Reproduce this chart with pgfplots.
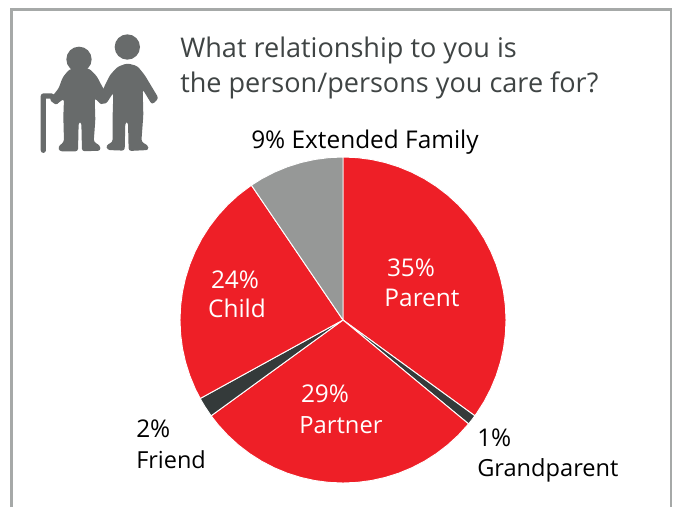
\documentclass[border=0pt]{standalone}
\usepackage{fontspec}
\setmainfont{Open Sans}
\usepackage{pgfplots}
\pgfplotsset{compat=1.18}
\definecolor{ingred}{HTML}{EE1F27}
\definecolor{slicedark}{HTML}{343A3A}
\definecolor{slicegrey}{HTML}{969897}
\definecolor{icongrey}{HTML}{686B6B}
\definecolor{framegrey}{HTML}{A6A9A8}
\definecolor{titlegrey}{HTML}{3F4444}
\begin{document}
\begin{tikzpicture}[x=0.75pt,y=-0.75pt]
\path[use as bounding box] (0,0) rectangle (678,507);
% frame, open at the bottom
\draw[framegrey,line width=2.2pt] (11.5,507) -- (11.5,9.5) -- (671,9.5) -- (671,507);
% icon, traced in zoom coordinates (3x, offset 20,20)
\begin{scope}[shift={(20,20)},x=0.25pt,y=-0.25pt,icongrey]
\fill (177,118) circle[radius=38];
\fill (322,81) circle[radius=38];
\fill[rounded corners=2pt] (177,142) -- (208,146) -- (230,168) -- (250,206) -- (264,222) -- (246,256) -- (224,234) -- (226,300) -- (221,366) -- (240,376) -- (242,392) -- (186,394) -- (184,306) -- (176,306) -- (174,394) -- (118,394) -- (114,380) -- (132,366) -- (130,290) -- (132,236) -- (108,254) -- (88,240) -- (116,205) -- (128,172) -- (148,148) -- cycle;
\fill[rounded corners=2pt] (322,130) -- (352,138) -- (374,165) -- (416,235) -- (396,254) -- (368,208) -- (370,285) -- (364,366) -- (384,376) -- (386,390) -- (326,393) -- (324,306) -- (316,306) -- (314,392) -- (262,390) -- (258,376) -- (278,366) -- (278,285) -- (280,218) -- (258,252) -- (240,250) -- (248,210) -- (270,165) -- (293,140) -- cycle;
\draw[line width=3.9pt,line cap=round,line join=round] (70,391) -- (70,228) -- (95,228) -- (108,245);
\end{scope}
% title
\node[anchor=base west,inner sep=0pt,text=titlegrey,font=\fontsize{20.3pt}{26pt}\selectfont] at (180,57.5) {What relationship to you is};
\node[anchor=base west,inner sep=0pt,text=titlegrey,font=\fontsize{20.3pt}{26pt}\selectfont] at (180,92) {the person/persons you care for?};
% pie: x = angle in degrees, y = radius
\begin{axis}[
    at={(257.25pt,-240pt)}, anchor=center,
    data cs=polar,
    axis lines=none,
    scale only axis,
    width=244.5pt, height=244.5pt,
    xmin=-1, xmax=1, ymin=-1, ymax=1,
    clip=false,
    every axis plot/.append style={draw=white,line width=0.7pt,mark=none},
]
% Parent 35
\addplot[fill=ingred] coordinates {(0,0) (90,1) (85,1) (80,1) (75,1) (70,1) (65,1) (60,1) (55,1) (50,1) (45,1) (40,1) (35,1) (30,1) (25,1) (20,1) (15,1) (10,1) (5,1) (0,1) (-5,1) (-10,1) (-15,1) (-20,1) (-25,1) (-30,1) (-35,1) (-36,1)} -- cycle;
% Grandparent 1
\addplot[fill=slicedark] coordinates {(0,0) (-36,1) (-38,1) (-39.6,1)} -- cycle;
% Partner 29
\addplot[fill=ingred] coordinates {(0,0) (-39.6,1) (-45,1) (-50,1) (-55,1) (-60,1) (-65,1) (-70,1) (-75,1) (-80,1) (-85,1) (-90,1) (-95,1) (-100,1) (-105,1) (-110,1) (-115,1) (-120,1) (-125,1) (-130,1) (-135,1) (-140,1) (-144,1)} -- cycle;
% Friend 2
\addplot[fill=slicedark] coordinates {(0,0) (-144,1) (-148,1) (-151.2,1)} -- cycle;
% Child 24
\addplot[fill=ingred] coordinates {(0,0) (-151.2,1) (-155,1) (-160,1) (-165,1) (-170,1) (-175,1) (-180,1) (-185,1) (-190,1) (-195,1) (-200,1) (-205,1) (-210,1) (-215,1) (-220,1) (-225,1) (-230,1) (-235.8,1)} -- cycle;
% Extended Family 9 (drawn a little wider than 9% in the reference)
\addplot[fill=slicegrey] coordinates {(0,0) (-235.8,1) (-240,1) (-245,1) (-250,1) (-255,1) (-260,1) (-265,1) (-270,1)} -- cycle;
\end{axis}
% labels
\begin{scope}[every node/.style={inner sep=0pt,font=\fontsize{18.3pt}{24pt}\selectfont}]
\node[anchor=base west] at (251,148) {9\% Extended Family};
\node[anchor=base,text=white] at (411,276) {35\%};
\node[anchor=base,text=white] at (422,306) {Parent};
\node[anchor=base,text=white] at (235,288) {24\%};
\node[anchor=base,text=white] at (237,317) {Child};
\node[anchor=base,text=white] at (325,402) {29\%};
\node[anchor=base,text=white,font=\fontsize{17.8pt}{24pt}\selectfont] at (341,433) {Partner};
\node[anchor=base west] at (136,437) {2\%};
\node[anchor=base west,font=\fontsize{17.6pt}{24pt}\selectfont] at (136,468) {Friend};
\node[anchor=base west] at (477,446) {1\%};
\node[anchor=base west,font=\fontsize{17.7pt}{24pt}\selectfont] at (477,476) {Grandparent};
\end{scope}
\end{tikzpicture}
\end{document}
